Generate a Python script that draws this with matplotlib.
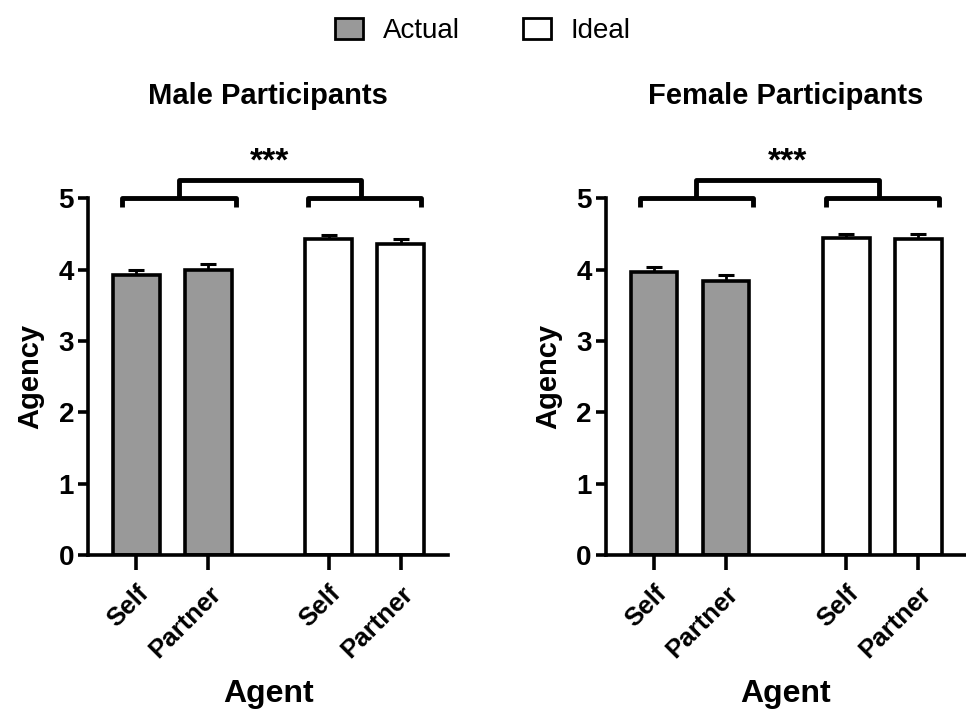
import matplotlib
matplotlib.use('Agg')
import matplotlib.pyplot as plt
from matplotlib.patches import Patch

plt.rcParams['font.family'] = ['Liberation Sans', 'DejaVu Sans']

labels = ['Self', 'Partner', 'Self', 'Partner']
conditions = ['Actual', 'Actual', 'Ideal', 'Ideal']
male_means = [3.92, 4.00, 4.43, 4.36]
male_err = [0.07, 0.08, 0.06, 0.07]
female_means = [3.96, 3.84, 4.44, 4.43]
female_err = [0.08, 0.08, 0.06, 0.07]
titles = ['Male Participants', 'Female Participants']

pos = [0, 1, 2.67, 3.67]
colors = {'Actual': '#999999', 'Ideal': 'white'}
lw = 2.6

fig = plt.figure(figsize=(9.66, 7.09), dpi=100)
axes = [fig.add_axes([0.091, 0.217, 0.373, 0.5035]),
        fig.add_axes([0.627, 0.217, 0.373, 0.5035])]

for ax, means, errs, title in zip(axes, [male_means, female_means],
                                  [male_err, female_err], titles):
    ax.bar(pos, means, width=0.65, color=[colors[c] for c in conditions],
           edgecolor='black', linewidth=lw, zorder=2)
    ax.errorbar(pos, means, yerr=[[0] * 4, errs], fmt='none', ecolor='black',
                elinewidth=2, capsize=6, capthick=2.2, zorder=1)
    ax.set_xlim(-0.67, 4.33)
    ax.set_ylim(0, 5)
    ax.set_yticks([0, 1, 2, 3, 4, 5])
    ax.set_xticks(pos)
    ax.set_xticklabels(labels, rotation=45, ha='right', rotation_mode='anchor',
                       fontsize=18.5, fontweight='bold')
    for t in ax.get_yticklabels():
        t.set_fontsize(20)
        t.set_fontweight('bold')
    ax.tick_params(axis='y', width=lw, length=7, direction='out', pad=3)
    ax.tick_params(axis='x', width=lw, length=11, direction='out', pad=8)
    for s in ['top', 'right']:
        ax.spines[s].set_visible(False)
    for s in ['left', 'bottom']:
        ax.spines[s].set_linewidth(lw)
    ax.set_ylabel('Agency', fontsize=21, fontweight='bold', labelpad=10)
    ax.set_xlabel('Agent', fontsize=23, fontweight='bold', labelpad=12)
    ax.set_title(title, fontsize=21, fontweight='bold', pad=68)

    # significance brackets
    kw = dict(color='black', linewidth=3.5, clip_on=False, solid_capstyle='butt')
    y0, tick = 5.0, 0.12
    l1, r1 = pos[0] - 0.2, pos[1] + 0.38
    l2, r2 = pos[2] - 0.28, pos[3] + 0.28
    ax.plot([l1, l1, r1, r1], [y0 - tick, y0, y0, y0 - tick], **kw)
    ax.plot([l2, l2, r2, r2], [y0 - tick, y0, y0, y0 - tick], **kw)
    m1 = (l1 + r1) / 2
    m2 = (l2 + r2) / 2 - 0.05
    y1 = 5.25
    ax.plot([m1, m1, m2, m2], [y0, y1, y1, y0], **kw)
    ax.text((m1 + m2) / 2, y1 + 0.04, '***', ha='center', va='bottom',
            fontsize=24, fontweight='bold')

handles = [Patch(facecolor='#999999', edgecolor='black', linewidth=2, label='Actual'),
           Patch(facecolor='white', edgecolor='black', linewidth=2, label='Ideal')]
fig.legend(handles=handles, loc='upper center', bbox_to_anchor=(0.5, 1.01), ncol=2,
           frameon=False, fontsize=20, handlelength=1.0, handleheight=0.8,
           columnspacing=2.3, handletextpad=0.7)

fig.savefig('out.png', dpi=100)
